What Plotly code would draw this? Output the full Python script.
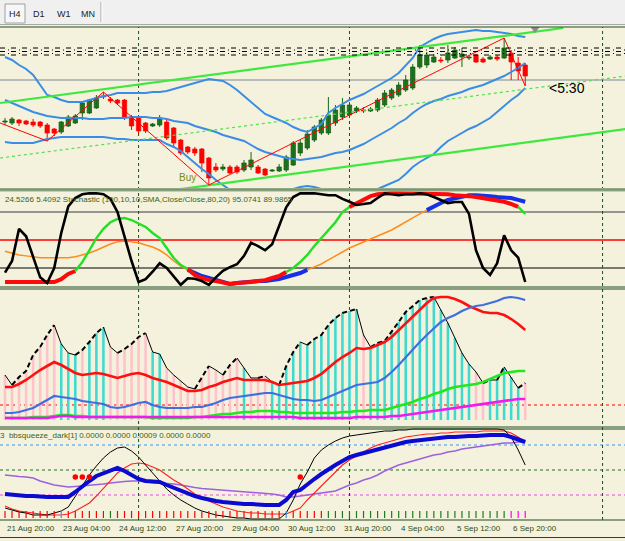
import plotly.graph_objects as go

# ---------------- data ----------------
label_bars = [0, 8, 16, 24, 32, 40, 48, 56, 64, 72]
label_text = ["21 Aug 20:00", "23 Aug 04:00", "24 Aug 12:00", "27 Aug 20:00", "29 Aug 04:00",
              "30 Aug 12:00", "31 Aug 20:00", "4 Sep 04:00", "5 Sep 12:00", "6 Sep 20:00"]
week_sep_bars = [19, 49, 85]

open_ = [1.1636,1.1634,1.1640,1.1638,1.1636,1.1636,1.1630,1.1622,1.1616,1.1628,
         1.1634,1.1654,1.1654,1.1664,1.1688,1.1682,1.1680,1.1680,1.1646,1.1644,
         1.1634,1.1628,1.1630,1.1636,1.1624,1.1600,1.1586,1.1582,1.1582,1.1564,
         1.1546,1.1542,1.1546,1.1546,1.1540,1.1546,1.1546,1.1542,1.1538,1.1538,
         1.1540,1.1550,1.1574,1.1584,1.1600,1.1614,1.1614,1.1634,1.1646,1.1650,
         1.1658,1.1660,1.1658,1.1660,1.1670,1.1684,1.1690,1.1700,1.1704,1.1746,
         1.1750,1.1756,1.1760,1.1760,1.1764,1.1766,1.1764,1.1770,1.1762,1.1762,
         1.1766,1.1764,1.1774,1.1754,1.1750]
high = [1.1644,1.1646,1.1642,1.1640,1.1642,1.1638,1.1634,1.1624,1.1638,1.1650,
        1.1652,1.1678,1.1682,1.1690,1.1696,1.1686,1.1682,1.1682,1.1650,1.1648,
        1.1636,1.1634,1.1650,1.1640,1.1626,1.1602,1.1588,1.1586,1.1584,1.1566,
        1.1554,1.1552,1.1550,1.1550,1.1560,1.1576,1.1550,1.1544,1.1542,1.1552,
        1.1570,1.1598,1.1600,1.1620,1.1630,1.1644,1.1686,1.1670,1.1684,1.1676,
        1.1668,1.1666,1.1666,1.1684,1.1700,1.1704,1.1716,1.1730,1.1752,1.1790,
        1.1776,1.1772,1.1766,1.1790,1.1786,1.1784,1.1770,1.1772,1.1766,1.1770,
        1.1770,1.1804,1.1780,1.1766,1.1754]
low = [1.1630,1.1630,1.1628,1.1630,1.1626,1.1624,1.1598,1.1608,1.1612,1.1626,
       1.1632,1.1640,1.1652,1.1662,1.1682,1.1674,1.1670,1.1640,1.1620,1.1614,
       1.1614,1.1626,1.1626,1.1600,1.1586,1.1570,1.1572,1.1568,1.1536,1.1510,
       1.1536,1.1538,1.1532,1.1532,1.1536,1.1540,1.1532,1.1528,1.1536,1.1536,
       1.1536,1.1548,1.1568,1.1580,1.1596,1.1610,1.1610,1.1628,1.1640,1.1646,
       1.1654,1.1654,1.1656,1.1656,1.1666,1.1680,1.1686,1.1696,1.1700,1.1742,
       1.1744,1.1754,1.1754,1.1754,1.1762,1.1746,1.1760,1.1754,1.1754,1.1760,
       1.1758,1.1762,1.1720,1.1720,1.1708]
close = [1.1638,1.1642,1.1634,1.1632,1.1630,1.1628,1.1614,1.1614,1.1636,1.1646,
         1.1648,1.1674,1.1680,1.1684,1.1686,1.1678,1.1674,1.1646,1.1628,1.1618,
         1.1618,1.1632,1.1644,1.1604,1.1594,1.1574,1.1576,1.1574,1.1554,1.1524,
         1.1540,1.1546,1.1534,1.1536,1.1554,1.1560,1.1534,1.1530,1.1540,1.1546,
         1.1566,1.1594,1.1594,1.1612,1.1626,1.1640,1.1650,1.1660,1.1670,1.1670,
         1.1664,1.1658,1.1662,1.1680,1.1694,1.1700,1.1710,1.1720,1.1746,1.1770,
         1.1770,1.1766,1.1758,1.1774,1.1780,1.1772,1.1766,1.1756,1.1756,1.1766,
         1.1762,1.1784,1.1756,1.1738,1.1728]

bb_upper = [1.1766,1.1760,1.1750,1.1742,1.1730,1.1710,1.1690,1.1686,1.1680,1.1676,
            1.1676,1.1676,1.1680,1.1684,1.1688,1.1690,1.1694,1.1694,1.1694,1.1694,
            1.1694,1.1696,1.1696,1.1698,1.1702,1.1706,1.1710,1.1714,1.1718,1.1722,
            1.1720,1.1718,1.1710,1.1700,1.1688,1.1676,1.1664,1.1652,1.1646,1.1640,
            1.1634,1.1626,1.1620,1.1616,1.1624,1.1632,1.1654,1.1664,1.1672,1.1680,
            1.1686,1.1692,1.1700,1.1708,1.1716,1.1724,1.1734,1.1748,1.1764,1.1786,
            1.1794,1.1802,1.1808,1.1812,1.1814,1.1816,1.1818,1.1820,1.1818,1.1818,
            1.1816,1.1814,1.1812,1.1808,1.1806]
bb_mid = [1.1680,1.1674,1.1668,1.1662,1.1656,1.1652,1.1648,1.1646,1.1644,1.1644,
          1.1644,1.1644,1.1642,1.1642,1.1642,1.1644,1.1644,1.1644,1.1646,1.1646,
          1.1646,1.1644,1.1644,1.1642,1.1638,1.1636,1.1634,1.1628,1.1624,1.1620,
          1.1616,1.1610,1.1606,1.1602,1.1598,1.1590,1.1582,1.1576,1.1572,1.1568,
          1.1564,1.1562,1.1560,1.1562,1.1564,1.1566,1.1570,1.1574,1.1576,1.1580,
          1.1586,1.1592,1.1600,1.1608,1.1616,1.1624,1.1634,1.1642,1.1654,1.1664,
          1.1672,1.1678,1.1682,1.1688,1.1692,1.1696,1.1702,1.1706,1.1710,1.1716,
          1.1722,1.1728,1.1736,1.1744,1.1754]
bb_lower = [1.1596,1.1594,1.1594,1.1594,1.1594,1.1598,1.1602,1.1604,1.1606,1.1606,
            1.1606,1.1606,1.1606,1.1606,1.1606,1.1604,1.1602,1.1602,1.1600,1.1600,
            1.1600,1.1600,1.1600,1.1592,1.1586,1.1578,1.1566,1.1554,1.1542,1.1532,
            1.1520,1.1510,1.1500,1.1490,1.1484,1.1480,1.1480,1.1484,1.1488,1.1494,
            1.1500,1.1502,1.1506,1.1508,1.1506,1.1502,1.1496,1.1492,1.1490,1.1490,
            1.1490,1.1492,1.1494,1.1502,1.1508,1.1514,1.1520,1.1532,1.1546,1.1556,
            1.1564,1.1572,1.1586,1.1598,1.1606,1.1614,1.1622,1.1628,1.1636,1.1644,
            1.1656,1.1668,1.1680,1.1690,1.1704]

# drawn objects (bar index, price)
channel_up_x, channel_up_y = [-0.7, 79.4], [1.1674, 1.1824]
channel_dn_x, channel_dn_y = [23.5, 88.9], [1.1499, 1.1623]
dotted_x, dotted_y = [-0.7, 88.9], [1.1564, 1.1729]
zigzag_x = [-0.7, 6, 14, 29, 71, 74]
zigzag_y = [1.1634, 1.1598, 1.1696, 1.1510, 1.1804, 1.1708]
hline_gray = 1.1720
hline_dashdot = [1.1784, 1.1777, 1.1770]
hline_dots = [1.1780, 1.1773]

# stochastic
stoch_k = [15,27.5,62,54,32,10,4,20,57.5,86,
           95,99,100,100,99,94,80,53,27.5,5,
           8,16,25,20,11.5,2,9,8.5,6,2,
           10,17,21,24,33,47,43.5,39,45.5,65,
           85,96,100,100,100,99,98,98,94,91,
           87.5,88.6,89.7,95,100,99,98,99,99,100,
           99,96,93,89.6,90.7,90.7,78,39,20,12.5,
           25,55,39,31,5]
stoch_sig = [5,5,5,5,5,5,4,5,8,13.6,
             16.8,26.4,39,52,62,69,72.5,73.6,71.4,68,
             64,57.5,52,41.4,30.7,23.2,19,12.5,9.3,7,
             6,4,3,4,4,5,6,7,9.3,11.4,
             15.7,20,26.4,34,43.6,52,60.7,69,80,85.4,
             89.6,94,97,99,100,100,100,100,100,100,
             100,100,99,99,98,98,97,96,95,94,
             93,91,88.6,85.4,78]
stoch_slow = [38,36,34,33,32,31,31,31,31,31,
              32,34,36,39,42.5,45.7,48,49,48,47,
              44.6,42.5,39,34,27.5,22,18,14.6,11.4,9.3,
              7,5,3,4,5,5,6,6,7,8.2,
              10.4,12.5,14.6,18,21,24.3,28.6,33,37,41.4,
              44.6,48,51,54.3,57.5,60.7,65,69,73.6,78,
              82,86.4,89.6,93,95,97,98,98,98,97,
              96,96,95,93,91]
stoch_levels = [80, 50, 20]

# third panel
hist = [45,35,43,49,65,73,85,95,76,67,
        65,70,78,87,93,73,67,71,76,83,
        87,68,66,52,45,39,33,31,43,54,
        50,45,55,62,52,42,42,44,38,35,
        54,68,78,75,81,85,95,102,107,109,
        111,85,73,77,79,88,98,108,114,120,
        122,123,110,97,82,67,56,48,37,40,
        40,53,43,32,37]
hist_up = [0,0,0,0,0,0,0,0,1,1,
           1,0,1,1,1,0,0,0,0,0,
           0,1,1,0,0,0,0,0,0,0,
           0,0,0,0,1,0,0,0,1,1,
           1,1,1,1,1,1,1,1,1,1,
           1,0,1,1,1,1,1,1,1,1,
           1,1,1,1,1,1,1,0,0,1,
           1,1,1,1,0]
line_red = [33,33,36,40,45,50,54,58,55,51,
            47,45,46,47,46,44,42,44,46,47,
            45,42,40,38,35,32,29,29,30,33,
            35,38,40,42,40,40,40,40,38,35,
            36,37,38,39,42,46,52,58,63,67,
            72,71,72,75,78,83,90,97,103,110,
            117,122,123,123,121,118,114,111,108,107,
            107,105,101,96,90]
line_blue = [7,7,8,10,12,16,20,24,23,22,
             21,19,18,17,16,13,12,13,15,17,
             18,15,13,12,12,12,12,13,13,15,
             17,20,22,23,24,25,26,27,27,25,
             23,21,20,20,19,20,23,26,29,32,
             35,36,37,38,42,48,55,63,71,78,
             85,92,98,102,105,109,112,114,115,117,
             119,122,123,122,120]
line_green = [2,2,2,2,3,3,3,4,5,5,
              4,4,3,3,3,3,3,3,3,3,
              3,2,2,2,2,2,2,3,3,4,
              5,6,6,7,8,8,9,9,9,8,
              8,7,7,7,7,7,7,7,8,8,
              9,9,10,10,10,12,14,16,18,21,
              23,26,28,31,33,34,35,36,38,41,
              44,47,48,49,49]
line_magenta = [2,2,2,2,2,2,2,3,4,4,
                3,3,3,3,3,3,3,3,3,3,
                3,3,3,3,3,3,3,3,3,3,
                3,3,3,3,3,3,3,3,3,3,
                3,3,2,2,2,2,2,2,2,2,
                3,3,3,3,3,4,4,5,6,7,
                8,9,10,11,12,13,14,15,16,17,
                18,19,20,21,21]
panel3_level = 15

# bbsqueeze panel
sq_blue = [1,0,0,-1,-1,-2,-2,-2,-2,-2,
           3,9,14,19,22,25,27,24,20,16,
           14,14,13,10,7,4,1,-1,-3,-5,
           -6,-7,-8,-9,-9,-9,-10,-10,-10,-10,
           -5,3,5,11,16,21,26,30,34,38,
           40,42,44,46,48,50,52,53,54,55,
           56,57,57,58,58,59,59,59,60,60,
           60,60,58,56,53]
sq_black = [-13,-15,-17,-18,-20,-20,-20,-18,-16,-12,
            -1,10,20,29,37,43,47,48,44,38,
            30,22,14,6,0,-5,-9,-13,-16,-18,
            -20,-21,-22,-23,-23,-24,-24,-24,-24,-24,
            -18,-5,11,23,37,45,50,54,57,59,
            60,61,62,63,64,64,65,65,66,66,
            66,66,66,66,66,66,66,66,66,66,
            66,65,58,45,30]
sq_red = [-11,-14,-16,-17,-18,-19,-20,-20,-20,-19,
          -16,-12,-8,-1,7,14,22,27,31,32,
          31,28,25,20,15,11,6,1,-3,-6,
          -9,-12,-14,-16,-17,-18,-18,-19,-19,-19,
          -19,-16,-13,-5,2,9,16,24,30,35,
          39,43,47,50,52,54,56,58,59,60,
          61,61,62,62,63,63,63,63,64,64,
          64,64,62,58,53]
sq_purple = [20,19,18.5,18,17,14,12,10,9,8,
             8.5,9,9.5,10,11,12,13,13.5,14,14,
             13,12.5,12,12,11,10,8.5,7.5,6.5,6,
             5,4.5,4,3.5,3,2.5,2,2,1,0,
             -2,-2,-1,0,1,2,3,4,7,10,
             12,15,17,20,24,27,30,32,34,36,
             38,40,41,43,44,46,47,48,49,50,
             51,52,52,53,53]
sq_state = ["r"]*8 + ["b"] + ["r"]*6 + ["g"] + ["r"]*24 + ["b"] + ["r"]*5 + ["g"]*26 + ["m"]*3
sq_dots_x = [10, 11, 12, 42]
sq_dots_y = [18, 18, 18, 18]
sq_levels = [50, 25, 0]

stoch_text = "24.5266 5.4092 Stochastic (100,10,10,SMA,Close/Close,80,20) 95.0741 89.9865"
sq_text = "3  bbsqueeze_dark[1] 0.0000 0.0000 0.0009 0.0000 0.0000"
timer_text = "<5:30"
buy_text = "Buy"
toolbar_buttons = ["H4", "D1", "W1", "MN"]

# ---------------- figure ----------------
W, H = 625, 541
BG = "#f4f2dc"
FONT = "Liberation Sans, Arial, sans-serif"
DKGREEN = "#1e4d1e"
N = len(close)
idx = list(range(N))


def py(ypx):
    return 1 - ypx / H


def pxx(xpx):
    return xpx / W


def runs(xs, ys, keyfn):
    res = []
    for i in range(len(ys) - 1):
        k = keyfn(ys[i], ys[i + 1])
        if res and res[-1][0] == k:
            res[-1][1].append(xs[i + 1])
            res[-1][2].append(ys[i + 1])
        else:
            res.append([k, [xs[i], xs[i + 1]], [ys[i], ys[i + 1]]])
    out = {}
    for k, rx, ry in res:
        ax, ay = out.setdefault(k, ([], []))
        ax += rx + [None]
        ay += ry + [None]
    return out


fig = go.Figure()


def line(x, y, color, width, yaxis, dash=None):
    fig.add_trace(go.Scatter(x=x, y=y, mode="lines", yaxis=yaxis, xaxis="x",
                             line=dict(color=color, width=width, dash=dash),
                             hoverinfo="skip", showlegend=False, connectgaps=False))


# --- main panel: candles
up = [c >= o for o, c in zip(open_, close)]
fig.add_trace(go.Bar(
    x=idx, y=[max(abs(c - o), 0.00018) for o, c in zip(open_, close)],
    base=[min(o, c) for o, c in zip(open_, close)], width=0.62, yaxis="y", xaxis="x",
    marker=dict(color=["#217a21" if u else "#ff0000" for u in up],
                line=dict(color=["#0e520e" if u else "#ff0000" for u in up], width=0.7)),
    hoverinfo="skip", showlegend=False))
for flag, col in [(True, "#176717"), (False, "#ff0000")]:
    wx, wy = [], []
    for i in idx:
        if up[i] == flag:
            wx += [i, i, None]
            wy += [low[i], high[i], None]
    line(wx, wy, col, 1, "y")

# bands
for band in (bb_upper, bb_mid, bb_lower):
    line(idx, band, "#3a8de6", 2, "y")
# objects
line(dotted_x, dotted_y, "#4fe04f", 1.2, "y", dash="3px,3px")
line(channel_up_x, channel_up_y, "#3ee83e", 2.2, "y")
line(channel_dn_x, channel_dn_y, "#3ee83e", 2.2, "y")
line(zigzag_x, zigzag_y, "#ff0000", 1, "y")
fig.add_trace(go.Scatter(x=[75.4], y=[1.1822], mode="markers", yaxis="y", xaxis="x",
                         marker=dict(symbol="triangle-down", size=8, color="#8c8c8c"),
                         hoverinfo="skip", showlegend=False))

# --- stochastic
for k, (ax, ay) in runs(idx, stoch_slow, lambda a, b: (a > 80 and b > 80) or (a < 20 and b < 20)).items():
    line(ax, ay, "#1530e8" if k else "#ff8c1a", 4 if k else 1.5, "y2")
for k, (ax, ay) in runs(idx, stoch_sig, lambda a, b: (a > 80 and b > 80) or (a < 20 and b < 20)).items():
    line(ax, ay, "#ff0a0a" if k else "#22e022", 4 if k else 2.4, "y2")
line(idx, stoch_k, "#000000", 2.6, "y2")

# --- third panel
fig.add_trace(go.Bar(x=idx, y=hist, width=0.36, yaxis="y3", xaxis="x",
                     marker=dict(color=["#3fd9cf" if u else "#ffc2cc" for u in hist_up], line=dict(width=0)),
                     hoverinfo="skip", showlegend=False))
for k, (ax, ay) in runs(idx, hist, lambda a, b: b > a).items():
    line(ax, ay, "#000000", 2 if k else 1, "y3", dash="5px,3px" if k else None)
line(idx, line_red, "#ff1010", 2.6, "y3")
line(idx, line_blue, "#3d6fe0", 2.2, "y3")
line(idx, line_green, "#1ee81e", 2.6, "y3")
line(idx, line_magenta, "#f01af0", 2.6, "y3")

# --- bbsqueeze panel
line(idx, sq_purple, "#9a62e0", 1.5, "y4")
line(idx, sq_red, "#ff2020", 1.1, "y4")
line(idx, sq_black, "#000000", 1, "y4")
line(idx, sq_blue, "#0a0ad0", 4, "y4")
tick_cols = {"r": "#ff0000", "g": "#1f7a1f", "b": "#3399ff", "m": "#ff00ff"}
for s, col in tick_cols.items():
    tx, ty = [], []
    for i in idx:
        if sq_state[i] == s:
            tx += [i, i, None]
            ty += [-23, -16, None]
    line(tx, ty, col, 1.2, "y4")
fig.add_trace(go.Scatter(x=sq_dots_x, y=sq_dots_y, mode="markers", yaxis="y4", xaxis="x",
                         marker=dict(size=5.5, color="#ff0000"), hoverinfo="skip", showlegend=False))

# ---------------- shapes ----------------
shapes = []


def hl(yref, y, color, width, dash=None, layer="below"):
    shapes.append(dict(type="line", xref="paper", x0=0, x1=1, yref=yref, y0=y, y1=y,
                       line=dict(color=color, width=width, dash=dash), layer=layer))


hl("y", hline_gray, "#7f8894", 1)
for v in hline_dashdot:
    hl("y", v, "#000000", 1, "5px,6px", "above")
for v in hline_dots:
    hl("y", v, "#000000", 1, "0px,8px,1px,2px", "above")
hl("y2", stoch_levels[0], "#777777", 1.4)
hl("y2", stoch_levels[1], "#ff0000", 1.4)
hl("y2", stoch_levels[2], "#000000", 1)
hl("y3", panel3_level, "#ff0000", 1, "3px,3px")
hl("y4", sq_levels[0], "#3399ff", 1.2, "3px,3px")
hl("y4", sq_levels[1], "#1e6e1e", 1.2, "3px,3px")
hl("y4", sq_levels[2], "#ee44ee", 1.2, "3px,3px")

for b in week_sep_bars:
    shapes.append(dict(type="line", xref="x", x0=b, x1=b, yref="paper", y0=py(520), y1=py(27),
                       line=dict(color=DKGREEN, width=1, dash="3px,3px"), layer="below"))

# panel borders
for ypx in (27, 287, 289, 427, 429, 520, 537.5):
    hl("paper", py(ypx), DKGREEN, 1, None, "above")
shapes.append(dict(type="rect", xref="paper", x0=0, x1=1, yref="paper", y0=py(191.5), y1=py(188),
                   fillcolor="#93ab89", line=dict(width=0), layer="above"))
hl("paper", py(189.8), "#6f8c66", 1, None, "above")

# toolbar
shapes.append(dict(type="rect", xref="paper", x0=0, x1=1, yref="paper", y0=py(25), y1=1,
                   fillcolor="#f0f0f0", line=dict(width=0), layer="above"))
hl("paper", py(24.5), "#a8a8a8", 1, None, "above")
shapes.append(dict(type="rect", xref="paper", x0=pxx(5), x1=pxx(25), yref="paper", y0=py(23), y1=py(4),
                   fillcolor="#f7f7f7", line=dict(color="#a0a0a0", width=1), layer="above"))
shapes.append(dict(type="line", xref="paper", x0=pxx(101), x1=pxx(101), yref="paper", y0=py(22), y1=py(2),
                   line=dict(color="#a0a0a0", width=1), layer="above"))
shapes.append(dict(type="line", xref="paper", x0=pxx(102), x1=pxx(102), yref="paper", y0=py(22), y1=py(2),
                   line=dict(color="#ffffff", width=1), layer="above"))

# ---------------- annotations ----------------
ann = []
for b, t in zip(label_bars, label_text):
    ann.append(dict(x=b, xref="x", y=py(528), yref="paper", text=t, showarrow=False,
                    xanchor="left", yanchor="middle", font=dict(family=FONT, size=8, color="#2f4a12")))
ann.append(dict(x=pxx(3), xref="paper", y=py(199), yref="paper", text=stoch_text, showarrow=False,
                xanchor="left", yanchor="middle", font=dict(family=FONT, size=8, color="#3a5f14")))
ann.append(dict(x=pxx(-2), xref="paper", y=py(435), yref="paper", text=sq_text, showarrow=False,
                xanchor="left", yanchor="middle", font=dict(family=FONT, size=8, color="#3a5f14")))
ann.append(dict(x=24.5, xref="x", y=1.1524, yref="y", text=buy_text, showarrow=False,
                xanchor="left", yanchor="middle", font=dict(family=FONT, size=10, color="#7d8a1a")))
ann.append(dict(x=77.1, xref="x", y=1.1704, yref="y", text=timer_text, showarrow=False,
                xanchor="left", yanchor="middle", font=dict(family=FONT, size=14, color="#000000")))
for t, cx in zip(toolbar_buttons, [15, 39, 64, 88]):
    ann.append(dict(x=pxx(cx), xref="paper", y=py(14), yref="paper", text=t, showarrow=False,
                    xanchor="center", yanchor="middle", font=dict(family=FONT, size=9, color="#222222")))

fig.update_layout(
    width=W, height=H, margin=dict(l=0, r=0, t=0, b=0),
    paper_bgcolor=BG, plot_bgcolor=BG, barmode="overlay", showlegend=False,
    xaxis=dict(range=[-5 / 7.03, 620 / 7.03], visible=False, fixedrange=True),
    yaxis=dict(domain=[py(188), py(27)], range=[1.1504, 1.1826], visible=False),
    yaxis2=dict(domain=[py(287), py(190)], range=[20 - 19 * 30 / 28, 20 + 78 * 30 / 28], visible=False, anchor="x"),
    yaxis3=dict(domain=[py(427), py(289)], range=[-7, 131], visible=False, anchor="x"),
    yaxis4=dict(domain=[py(521), py(428)], range=[-26, 67], visible=False, anchor="x"),
    shapes=shapes, annotations=ann,
)

fig.write_html("out.html")
